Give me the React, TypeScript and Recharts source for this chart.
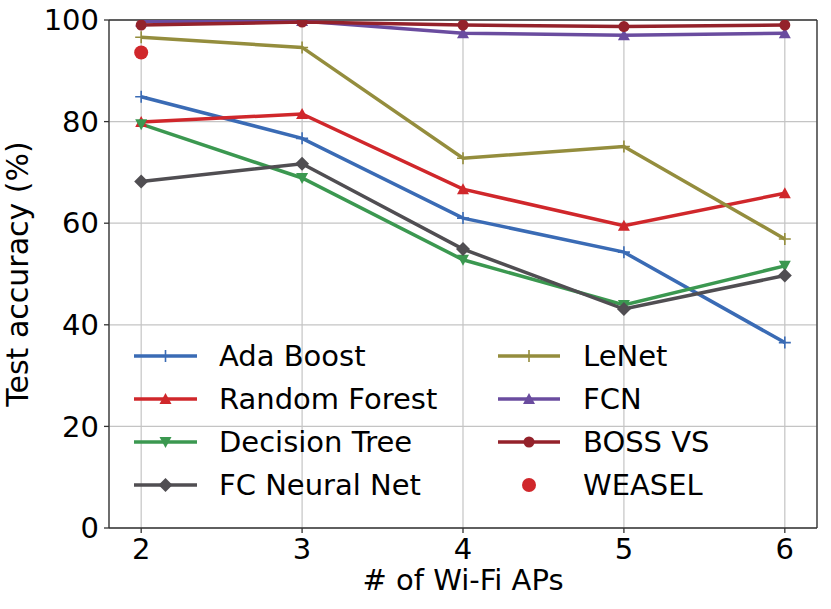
import React from "react";
import {
  LineChart,
  Line,
  XAxis,
  YAxis,
  CartesianGrid,
  ReferenceLine,
} from "recharts";

const xValues = [2, 3, 4, 5, 6];
const adaBoost = [84.9, 76.7, 61.0, 54.3, 36.5];
const randomForest = [79.9, 81.5, 66.7, 59.5, 65.9];
const decisionTree = [79.5, 68.9, 52.8, 43.9, 51.6];
const fcNeuralNet = [68.2, 71.7, 54.9, 43.1, 49.7];
const leNet = [96.6, 94.6, 72.8, 75.1, 56.9];
const fcn = [99.7, 99.8, 97.4, 97.0, 97.4];
const bossVs = [99.0, 99.6, 99.0, 98.7, 99.0];
const weasel: (number | null)[] = [93.6, null, null, null, null];

const xTicks = [2, 3, 4, 5, 6];
const yTicks = [0, 20, 40, 60, 80, 100];

type Shape = "plus" | "triUp" | "triDown" | "diamond" | "circle" | "bigCircle";

const series: {
  key: string;
  name: string;
  values: (number | null)[];
  color: string;
  shape: Shape;
  line: boolean;
}[] = [
  { key: "ada", name: "Ada Boost", values: adaBoost, color: "#3a6bb5", shape: "plus", line: true },
  { key: "rf", name: "Random Forest", values: randomForest, color: "#d0272b", shape: "triUp", line: true },
  { key: "dt", name: "Decision Tree", values: decisionTree, color: "#3b9850", shape: "triDown", line: true },
  { key: "fc", name: "FC Neural Net", values: fcNeuralNet, color: "#504e52", shape: "diamond", line: true },
  { key: "lenet", name: "LeNet", values: leNet, color: "#948d3d", shape: "plus", line: true },
  { key: "fcn", name: "FCN", values: fcn, color: "#6a4c9f", shape: "triUp", line: true },
  { key: "boss", name: "BOSS VS", values: bossVs, color: "#94222b", shape: "circle", line: true },
  { key: "weasel", name: "WEASEL", values: weasel, color: "#d0272b", shape: "bigCircle", line: false },
];

const data = xValues.map((x, i) => {
  const row: Record<string, number | null> = { x };
  series.forEach((s) => {
    row[s.key] = s.values[i];
  });
  return row;
});

function Marker({ shape, x, y, color }: { shape: Shape; x: number; y: number; color: string }) {
  switch (shape) {
    case "plus":
      return (
        <path
          d={`M${x - 6},${y}H${x + 6}M${x},${y - 6}V${y + 6}`}
          stroke={color}
          strokeWidth={1.6}
          fill="none"
        />
      );
    case "triUp":
      return <polygon points={`${x},${y - 6} ${x - 6},${y + 5} ${x + 6},${y + 5}`} fill={color} />;
    case "triDown":
      return <polygon points={`${x},${y + 6} ${x - 6},${y - 5} ${x + 6},${y - 5}`} fill={color} />;
    case "diamond":
      return <polygon points={`${x},${y - 7} ${x + 7},${y} ${x},${y + 7} ${x - 7},${y}`} fill={color} />;
    case "circle":
      return <circle cx={x} cy={y} r={5.5} fill={color} />;
    case "bigCircle":
      return <circle cx={x} cy={y} r={7} fill={color} />;
  }
  return null;
}

const makeDot = (shape: Shape, color: string) => (props: any) => {
  const { cx, cy, index } = props;
  if (cx == null || cy == null || isNaN(cx) || isNaN(cy)) return <g key={`d-${index}`} />;
  return (
    <g key={`d-${index}`}>
      <Marker shape={shape} x={cx} y={cy} color={color} />
    </g>
  );
};

const FONT = "'DejaVu Sans', sans-serif";
const FS = 29;

function LegendOverlay() {
  const rowY = [356, 399, 442, 485];
  const cols = [
    { lineX1: 134, lineX2: 197, textX: 219 },
    { lineX1: 498, lineX2: 560, textX: 583 },
  ];
  return (
    <svg
      width={831}
      height={609}
      style={{ position: "absolute", left: 0, top: 0, pointerEvents: "none" }}
    >
      {series.map((s, i) => {
        const c = cols[Math.floor(i / 4)];
        const y = rowY[i % 4];
        const mx = (c.lineX1 + c.lineX2) / 2;
        return (
          <g key={s.key}>
            {s.line && (
              <line x1={c.lineX1} x2={c.lineX2} y1={y} y2={y} stroke={s.color} strokeWidth={3.5} />
            )}
            <Marker shape={s.shape} x={mx} y={y} color={s.color} />
            <text
              x={c.textX}
              y={y}
              dominantBaseline="central"
              fontSize={FS}
              fontFamily={FONT}
              fill="#000"
            >
              {s.name}
            </text>
          </g>
        );
      })}
    </svg>
  );
}

export default function App() {
  return (
    <div style={{ position: "absolute", left: 0, top: 0, width: 831, height: 609, background: "#fff" }}>
      <LineChart
        width={831}
        height={609}
        data={data}
        margin={{ top: 20, right: 14, bottom: 0, left: 0 }}
        style={{ fontFamily: FONT }}
      >
        <CartesianGrid stroke="#c4c4c4" strokeWidth={1.2} />
        <XAxis
          dataKey="x"
          type="number"
          domain={[1.8, 6.2]}
          ticks={xTicks}
          allowDataOverflow
          stroke="#333"
          strokeWidth={1.3}
          tickSize={5}
          tickMargin={5}
          height={81}
          tick={{ fill: "#000", fontSize: FS, fontFamily: FONT }}
          label={{
            value: "# of Wi-Fi APs",
            position: "insideBottom",
            offset: 19,
            fill: "#000",
            fontSize: FS,
            fontFamily: FONT,
          }}
        />
        <YAxis
          type="number"
          domain={[0, 100]}
          ticks={yTicks}
          allowDataOverflow
          width={109}
          stroke="#333"
          strokeWidth={1.3}
          tickSize={5}
          tickMargin={5}
          tick={{ fill: "#000", fontSize: FS, fontFamily: FONT }}
          label={{
            value: "Test accuracy (%)",
            angle: -90,
            position: "insideLeft",
            offset: 17,
            style: { textAnchor: "middle" },
            fill: "#000",
            fontSize: 30,
            fontFamily: FONT,
          }}
        />
        <ReferenceLine y={100} stroke="#333" strokeWidth={1.3} />
        <ReferenceLine x={6.2} stroke="#333" strokeWidth={1.3} />
        {series.map((s) => (
          <Line
            key={s.key}
            dataKey={s.key}
            name={s.name}
            type="linear"
            stroke={s.line ? s.color : "none"}
            strokeWidth={3.5}
            dot={makeDot(s.shape, s.color)}
            activeDot={false}
            isAnimationActive={false}
            connectNulls={false}
          />
        ))}
      </LineChart>
      <LegendOverlay />
    </div>
  );
}
